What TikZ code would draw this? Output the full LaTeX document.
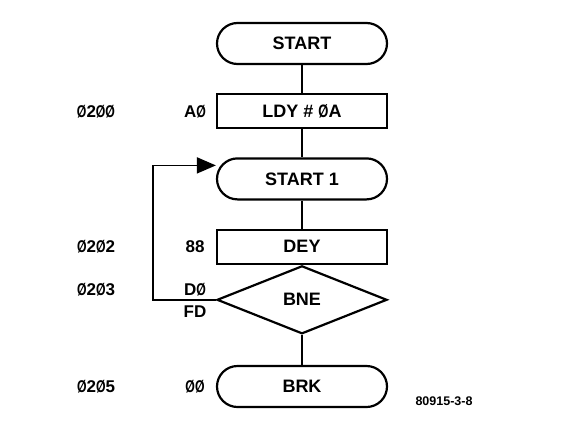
\documentclass[tikz,border=0pt]{standalone}
\usepackage{fontspec}
\setmainfont{Liberation Sans}
\usetikzlibrary{arrows.meta, positioning, shapes.geometric}
\newcommand{\oh}{\scalebox{0.72}[1]{Ø}}

\begin{document}
\begin{tikzpicture}[
  node distance=28pt,
  font=\fontsize{18}{20}\selectfont\bfseries,
  term/.style={draw, line width=2.2pt, rounded corners=20.5pt, minimum width=170pt, minimum height=41pt, inner sep=0pt},
  instr/.style={draw, line width=2.2pt, minimum width=170pt, minimum height=34pt, inner sep=0pt},
  test/.style={draw, diamond, line width=2.2pt, minimum width=170pt, minimum height=68pt, inner sep=0pt, aspect=2.5},
  addr/.style={font=\fontsize{17}{19}\selectfont\bfseries},
  code/.style={font=\fontsize{17}{19}\selectfont\bfseries},
  line/.style={line width=1.6pt},
  arrow/.style={-{Triangle[length=19pt, width=16pt]}, line width=1.6pt}
]
\useasboundingbox (0,0) rectangle (575pt,-434pt);
\coordinate (col1) at (96pt,0);
\coordinate (col2) at (195pt,0);

\node[term] (start) at (302pt,-43.5pt) {START};
\node[instr, below=of start] (ldy) {LDY \# \oh A};
\node[term, below=of ldy] (start1) {START 1};
\node[instr, below=of start1] (dey) {DEY};
\node[test, below=0pt of dey] (bne) {BNE};
\node[term, below=30pt of bne] (brk) {BRK};

% addresses and opcodes
\node[addr] (a200) at (col1 |- ldy) {\oh2\oh\oh};
\node[code] (lda) at (col2 |- ldy) {A\oh};
\node[addr] (a202) at (col1 |- dey) {\oh2\oh2};
\node[code] (c88) at (col2 |- dey) {88};
\node[addr, yshift=10pt] (a203) at (col1 |- bne) {\oh2\oh3};
\node[code, yshift=10pt] (cd0) at (col2 |- bne) {D\oh};
\node[code, yshift=-12pt] (cfd) at (col2 |- bne) {FD};
\node[addr] (a205) at (col1 |- brk) {\oh2\oh5};
\node[code] (c00) at (col2 |- brk) {\oh\oh};
\node[font=\fontsize{12.5}{14}\selectfont\bfseries, anchor=west] (fig) at (412pt,-401pt) {80915-3-8};

\draw[line] (start) -- (ldy);
\draw[line] (ldy) -- (start1);
\draw[line] (start1) -- (dey);
\draw[line] (bne) -- (brk);

% loop back
\coordinate (loopin) at ([yshift=13.5pt]start1.west);
\draw[arrow] (bne.west) -- ++(-63pt,0) |- (loopin);
\end{tikzpicture}
\end{document}
